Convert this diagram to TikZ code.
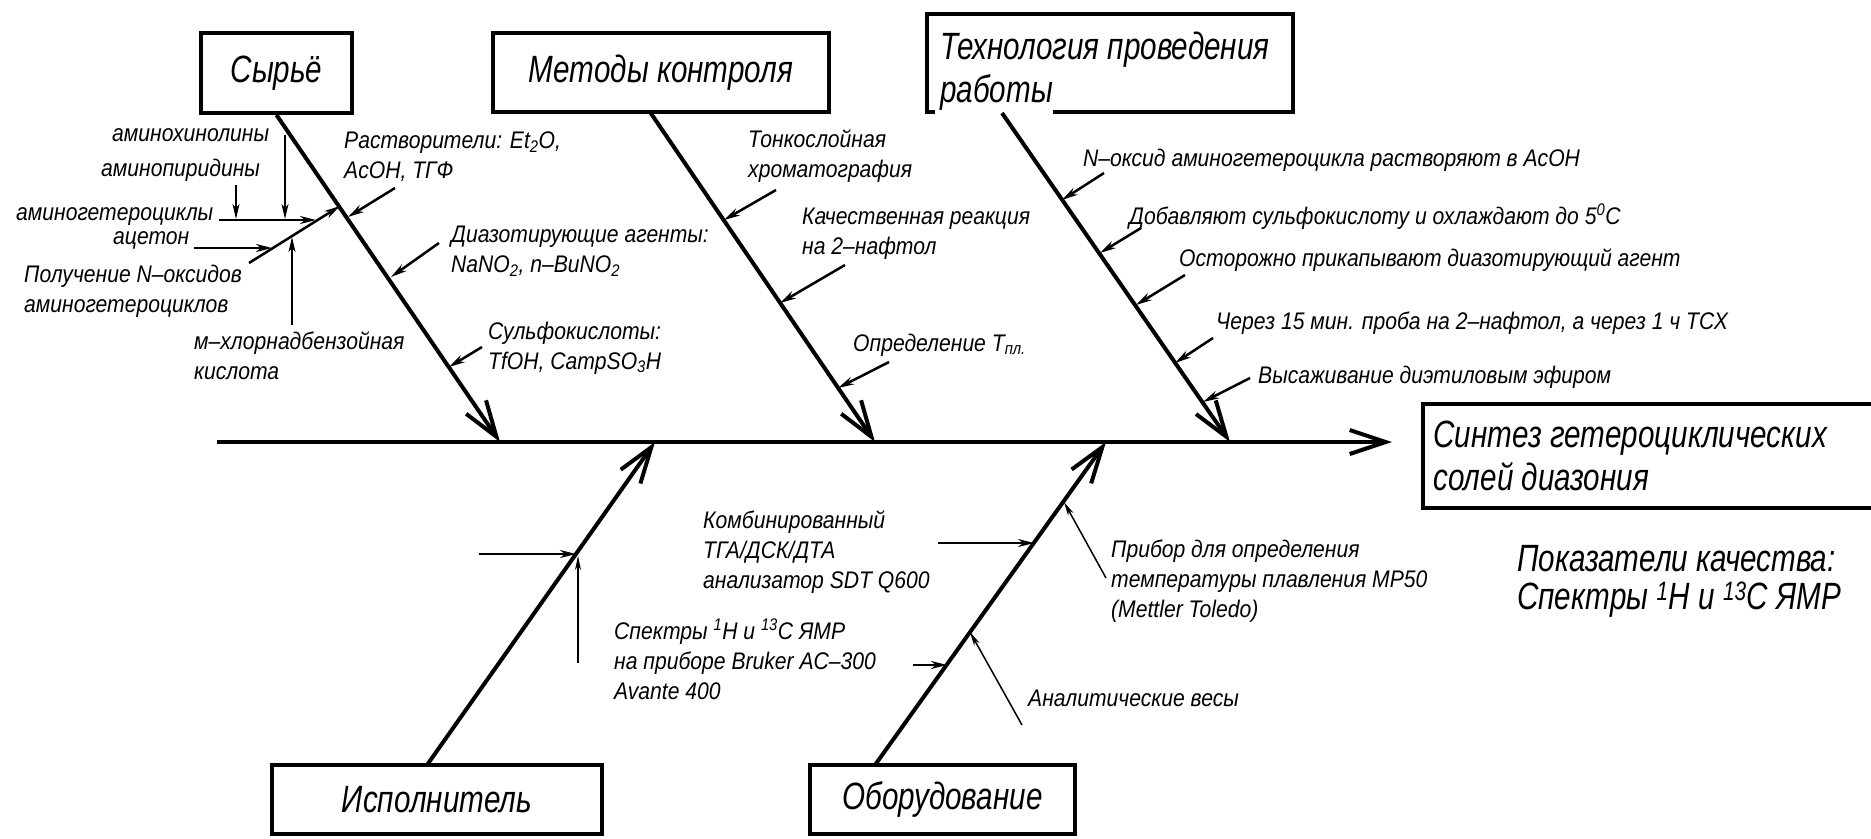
\documentclass[tikz,border=0pt]{standalone}
\usepackage{fontspec}
\setmainfont{Liberation Sans}[FakeStretch=0.88]
\newfontfamily\bigfont{Liberation Sans}[FakeStretch=0.78]
\usetikzlibrary{arrows.meta}
\begin{document}
\begin{tikzpicture}[x=1pt,y=-1pt,
  lbl/.style={font=\fontsize{24}{30}\selectfont\itshape, anchor=west, inner sep=0pt, align=left},
  big/.style={font=\bigfont\fontsize{38}{43}\selectfont\itshape, inner sep=0pt},
  boxl/.style={line width=4pt},
  bone/.style={line width=4pt, -{Straight Barb[length=36pt,width=24pt]}},
  sub/.style={line width=2.5pt, -{Stealth[length=16pt,width=8pt,inset=5pt]}},
  subthin/.style={line width=2pt, -{Stealth[length=15pt,width=7pt,inset=4pt]}},
  thinarr/.style={line width=1.5pt, -{Stealth[length=14pt,width=6pt,inset=4pt]}}
]
\useasboundingbox (0,0) rectangle (1871,838);

% ---- boxes ----
\node[draw, boxl, big, minimum width=151pt, minimum height=80pt] (syr) at (276.5,73) {Сырьё};
\node[draw, boxl, big, minimum width=336pt, minimum height=79pt] (met) at (661,72.5) {Методы контроля};
\node[big, anchor=west, align=left] (tech) at (940,71.5) {Технология проведения\\работы};
\draw[boxl] (1053,112) -- (1293,112) -- (1293,14) -- (927,14) -- (927,112) -- (935,112);
\node[big, anchor=west, align=left] (syn) at (1433,456) {Синтез гетероциклических\\солей диазония};
\draw[boxl] (1880,404) -- (1423,404) -- (1423,508) -- (1880,508);
\node[draw, boxl, big, minimum width=330pt, minimum height=69pt] (isp) at (437,799.5) {Исполнитель};
\node[draw, boxl, big, minimum width=265pt, minimum height=69pt] (obo) at (942.5,799.5) {Оборудование};
\node[big, anchor=west, align=left, font=\bigfont\fontsize{38}{38}\selectfont\itshape] (pok) at (1517,581) {Показатели качества:\\Спектры \textsuperscript{1}H и \textsuperscript{13}C ЯМР};

% ---- main line and bones ----
\coordinate (mL) at (217,442);
\coordinate (mR) at (1392,442);
\draw[bone] (mL) -- (mR);

\coordinate (m0) at (650,112);
\coordinate (t0) at (1002,113);
\coordinate (i0) at (427,765);
\coordinate (o0) at (875,765);
\coordinate (tS) at (500,442);
\coordinate (tM) at (875,442);
\coordinate (tT) at (1230,442);
\coordinate (tI) at (655,442);
\coordinate (tO) at (1106,442);
\draw[bone] (syr.south) -- (tS);
\draw[bone] (m0) -- (tM);
\draw[bone] (t0) -- (tT);
\draw[bone] (i0) -- (tI);
\draw[bone] (o0) -- (tO);

% ---- left cluster ----
\node[lbl] (aq) at (112,135) {аминохинолины};
\node[lbl] (ap) at (101,170) {аминопиридины};
\node[lbl] (ag) at (16,217) {аминогетероциклы};
\node[lbl] (ac) at (113,240) {ацетон};
\node[lbl] (pn) at (24,291) {Получение N–оксидов\\аминогетероциклов};
\node[lbl] (mh) at (194,356) {м–хлорнадбензойная\\кислота};

\coordinate (d0) at (249,263);
\coordinate (d1) at (340,206);
\draw[sub] (d0) -- (d1);
\coordinate (h0) at (219,220);
\coordinate (h1) at (316,220);
\draw[sub] (h0) -- (h1);
\coordinate (v1a) at (285,135);
\coordinate (v1b) at (285,219);
\draw[subthin] (v1a) -- (v1b);
\coordinate (v2a) at (236,185);
\coordinate (v2b) at (236,219);
\draw[subthin] (v2a) -- (v2b);
\coordinate (a0) at (194,248);
\coordinate (a1) at (272,248);
\draw[sub] (a0) -- (a1);
\coordinate (c0) at (292,325);
\coordinate (c1) at (292,237);
\draw[subthin] (c0) -- (c1);

% ---- raw materials ----
\node[lbl] (rs) at (344,157) {Растворители: Et\textsubscript{2}O,\\AcOH, ТГФ};
\coordinate (rs0) at (395,188); \coordinate (rs1) at (348,217);
\draw[sub] (rs0) -- (rs1);
\node[lbl] (dz) at (451,251) {Диазотирующие агенты:\\NaNO\textsubscript{2}, n–BuNO\textsubscript{2}};
\coordinate (dz0) at (439,243); \coordinate (dz1) at (391,277);
\draw[sub] (dz0) -- (dz1);
\node[lbl] (sf) at (488,348) {Сульфокислоты:\\TfOH, CampSO\textsubscript{3}H};
\coordinate (sf0) at (482,347); \coordinate (sf1) at (449,367);
\draw[sub] (sf0) -- (sf1);

% ---- control methods ----
\node[lbl] (tn) at (748,156) {Тонкослойная\\хроматография};
\coordinate (tn0) at (776,190); \coordinate (tn1) at (724,220);
\draw[sub] (tn0) -- (tn1);
\node[lbl] (kr) at (802,234) {Качественная реакция\\на 2–нафтол};
\coordinate (kr0) at (845,265); \coordinate (kr1) at (780,303);
\draw[sub] (kr0) -- (kr1);
\node[lbl] (op) at (853,345) {Определение T\textsubscript{пл.}};
\coordinate (op0) at (889,362); \coordinate (op1) at (838,388);
\draw[sub] (op0) -- (op1);

% ---- technology ----
\node[lbl] (no) at (1083,160) {N–оксид аминогетероцикла растворяют в AcOH};
\coordinate (no0) at (1104,173); \coordinate (no1) at (1062,200);
\draw[sub] (no0) -- (no1);
\node[lbl] (db) at (1129,217) {Добавляют сульфокислоту и охлаждают до 5\textsuperscript{0}С};
\coordinate (db0) at (1141,228); \coordinate (db1) at (1100,253);
\draw[sub] (db0) -- (db1);
\node[lbl] (os) at (1179,260) {Осторожно прикапывают диазотирующий агент};
\coordinate (os0) at (1185,275); \coordinate (os1) at (1136,305);
\draw[sub] (os0) -- (os1);
\node[lbl] (cz) at (1216,323) {Через 15 мин. проба на 2–нафтол, а через 1 ч ТСХ};
\coordinate (cz0) at (1213,338); \coordinate (cz1) at (1175,363);
\draw[sub] (cz0) -- (cz1);
\node[lbl] (vs) at (1258,377) {Высаживание диэтиловым эфиром};
\coordinate (vs0) at (1250,378); \coordinate (vs1) at (1203,402);
\draw[sub] (vs0) -- (vs1);

% ---- executor ----
\coordinate (e0) at (479,554); \coordinate (e1) at (576,554);
\draw[sub] (e0) -- (e1);
\coordinate (e2) at (578,663); \coordinate (e3) at (578,556);
\draw[thinarr] (e2) -- (e3);

% ---- equipment ----
\node[lbl] (kb) at (703,552) {Комбинированный\\ТГА/ДСК/ДТА\\анализатор SDT Q600};
\coordinate (kb0) at (938,543); \coordinate (kb1) at (1034,543);
\draw[sub] (kb0) -- (kb1);
\node[lbl] (sp) at (614,659) {Спектры \textsuperscript{1}H и \textsuperscript{13}C ЯМР\\на приборе Bruker AC–300\\Avante 400};
\coordinate (sp0) at (913,665); \coordinate (sp1) at (947,665);
\draw[sub] (sp0) -- (sp1);
\node[lbl] (pr) at (1111,581) {Прибор для определения\\температуры плавления MP50\\(Mettler Toledo)};
\coordinate (pr0) at (1106,578); \coordinate (pr1) at (1064,502);
\draw[thinarr] (pr0) -- (pr1);
\node[lbl] (an) at (1028,698) {Аналитические весы};
\coordinate (an0) at (1022,725); \coordinate (an1) at (970,632);
\draw[thinarr] (an0) -- (an1);
\end{tikzpicture}
\end{document}
